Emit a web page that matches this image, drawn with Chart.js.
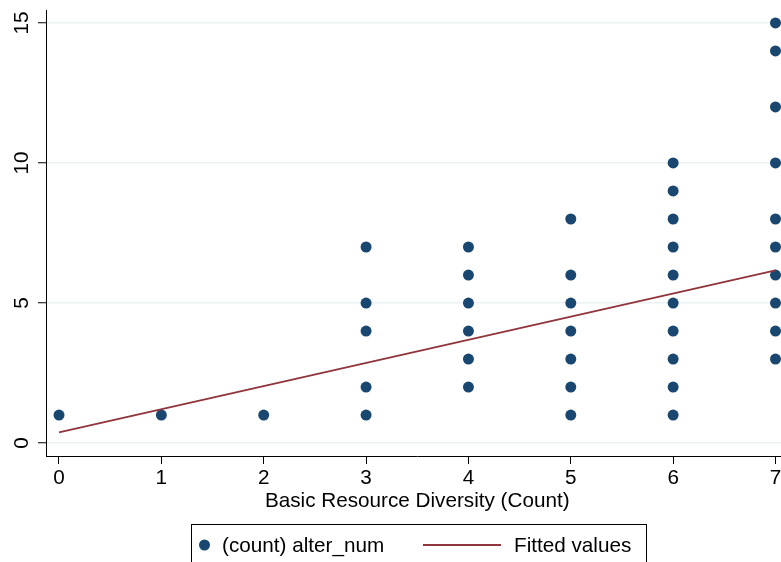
<!DOCTYPE html>
<html>
<head>
<meta charset="utf-8">
<script src="https://cdn.jsdelivr.net/npm/chart.js@4"></script>
<style>
  html, body { margin: 0; padding: 0; background: #fff; overflow: hidden; }
  #wrap { width: 781px; height: 562px; overflow: hidden; }
</style>
</head>
<body>
<div id="wrap">
  <canvas id="scatterChart" width="794" height="562"></canvas>
</div>
<script>
/* DATA */
const xValues = [0, 1, 2, 3, 4, 5, 6, 7];
const alterNum = [
  [1],
  [1],
  [1],
  [1, 2, 4, 5, 7],
  [2, 3, 4, 5, 6, 7],
  [1, 2, 3, 4, 5, 6, 8],
  [1, 2, 3, 4, 5, 6, 7, 8, 9, 10],
  [3, 4, 5, 6, 7, 8, 10, 12, 14, 15]
];
const fittedX = [0, 7];
const fittedY = [0.38, 6.17];
const xTicks = [0, 1, 2, 3, 4, 5, 6, 7];
const yTicks = [0, 5, 10, 15];

const FONT = "'Liberation Sans', Arial, Helvetica, sans-serif";
const NAVY = "#1a476f";
const MAROON = "#90353b";

const scatterPoints = [];
xValues.forEach((x, i) => {
  alterNum[i].forEach(y => scatterPoints.push({ x: x, y: y }));
});
const fittedPoints = fittedX.map((x, i) => ({ x: x, y: fittedY[i] }));

/* legend box drawn under the axis title, like Stata */
const boxLegend = {
  id: "boxLegend",
  afterDraw(chart) {
    const ctx = chart.ctx;
    const ds = chart.data.datasets;
    ctx.save();
    ctx.strokeStyle = "#000";
    ctx.lineWidth = 1;
    ctx.strokeRect(191.5, 524.5, 455, 60);
    ctx.font = "20.7px " + FONT;
    ctx.textBaseline = "middle";
    // scatter key
    ctx.beginPath();
    ctx.arc(204.5, 545, 5.5, 0, Math.PI * 2);
    ctx.fillStyle = NAVY;
    ctx.fill();
    ctx.fillStyle = "#000";
    ctx.fillText(ds[1].label, 222, 546);
    // line key
    ctx.beginPath();
    ctx.moveTo(423, 545);
    ctx.lineTo(501, 545);
    ctx.strokeStyle = MAROON;
    ctx.lineWidth = 1.8;
    ctx.stroke();
    ctx.fillText(ds[0].label, 514, 546);
    ctx.restore();
  }
};

new Chart(document.getElementById("scatterChart"), {
  type: "scatter",
  data: {
    datasets: [
      {
        type: "line",
        label: "Fitted values",
        data: fittedPoints,
        borderColor: MAROON,
        borderWidth: 1.8,
        pointRadius: 0,
        fill: false,
        tension: 0,
        order: 0
      },
      {
        label: "(count) alter_num",
        data: scatterPoints,
        backgroundColor: NAVY,
        borderColor: NAVY,
        borderWidth: 0,
        pointRadius: 5.5,
        pointHoverRadius: 5.5,
        order: 1
      }
    ]
  },
  options: {
    responsive: false,
    animation: false,
    events: [],
    layout: { padding: { top: 10, right: 3, bottom: 0, left: 0 } },
    plugins: {
      legend: { display: false },
      tooltip: { enabled: false }
    },
    scales: {
      x: {
        type: "linear",
        min: -0.127,
        max: 7.127,
        afterFit: s => {
          s.height = 106;
          s.paddingLeft = 0;
          s.paddingRight = 0;
        },
        afterBuildTicks: s => { s.ticks = xTicks.map(v => ({ value: v })); },
        border: { color: "#000", width: 1 },
        grid: { drawOnChartArea: false, tickColor: "#000", tickLength: 8, tickWidth: 1 },
        ticks: {
          padding: 2,
          color: "#000",
          font: { family: FONT, size: 20.7 },
          maxRotation: 0
        },
        title: {
          display: true,
          text: "Basic Resource Diversity (Count)",
          color: "#000",
          font: { family: FONT, size: 20.7 },
          padding: { top: 0, bottom: 48 }
        }
      },
      y: {
        type: "linear",
        min: -0.46,
        max: 15.46,
        afterFit: s => {
          s.width = 46;
          s.paddingTop = 0;
          s.paddingBottom = 0;
        },
        afterBuildTicks: s => { s.ticks = yTicks.map(v => ({ value: v })); },
        border: { color: "#000", width: 1 },
        grid: { color: "#eaf2f3", lineWidth: 1.5, tickColor: "#000", tickLength: 8, tickWidth: 1 },
        ticks: {
          minRotation: 90,
          maxRotation: 90,
          crossAlign: "center",
          padding: 4,
          color: "#000",
          font: { family: FONT, size: 20.7 }
        }
      }
    }
  },
  plugins: [boxLegend]
});
</script>
</body>
</html>
